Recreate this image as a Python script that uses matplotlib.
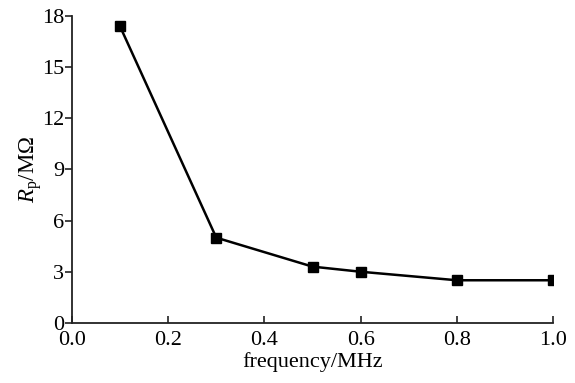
import matplotlib
matplotlib.use("Agg")
import matplotlib.pyplot as plt

plt.rcParams['font.family'] = ['Liberation Serif', 'DejaVu Serif']
plt.rcParams['mathtext.fontset'] = 'custom'
plt.rcParams['mathtext.rm'] = 'Liberation Serif'
plt.rcParams['mathtext.it'] = 'Liberation Serif:italic'

freq = [0.1, 0.3, 0.5, 0.6, 0.8, 1.0]
rp = [17.4, 5.0, 3.3, 3.0, 2.5, 2.5]
xticks = [0.0, 0.2, 0.4, 0.6, 0.8, 1.0]
yticks = [0, 3, 6, 9, 12, 15, 18]

fig = plt.figure(figsize=(5.75, 3.83), dpi=100)
ax = fig.add_axes([0.125, 0.157, 0.837, 0.801])

ax.plot(freq, rp, color='black', linewidth=1.8, marker='s', markersize=7)

ax.set_xlim(0, 1.0)
ax.set_ylim(0, 18)
ax.set_xticks(xticks)
ax.set_xticklabels(['%.1f' % t for t in xticks])
ax.set_yticks(yticks)

ax.spines['top'].set_visible(False)
ax.spines['right'].set_visible(False)
ax.spines['left'].set_linewidth(1.3)
ax.spines['bottom'].set_linewidth(1.3)
ax.spines['left'].set_color('#222222')
ax.spines['bottom'].set_color('#222222')
ax.tick_params(axis='x', direction='in', length=5, width=1.2, labelsize=16, pad=5.5, color='#222222')
ax.tick_params(axis='y', direction='out', length=5, width=1.2, labelsize=16, pad=0.5, color='#222222')

ax.set_xlabel('frequency/MHz', fontsize=16, labelpad=2)
ax.set_ylabel(r'$R_\mathrm{p}$/MΩ', fontsize=16.5)
ax.yaxis.set_label_coords(-0.058, 0.5)

fig.savefig('out.png', dpi=100)
